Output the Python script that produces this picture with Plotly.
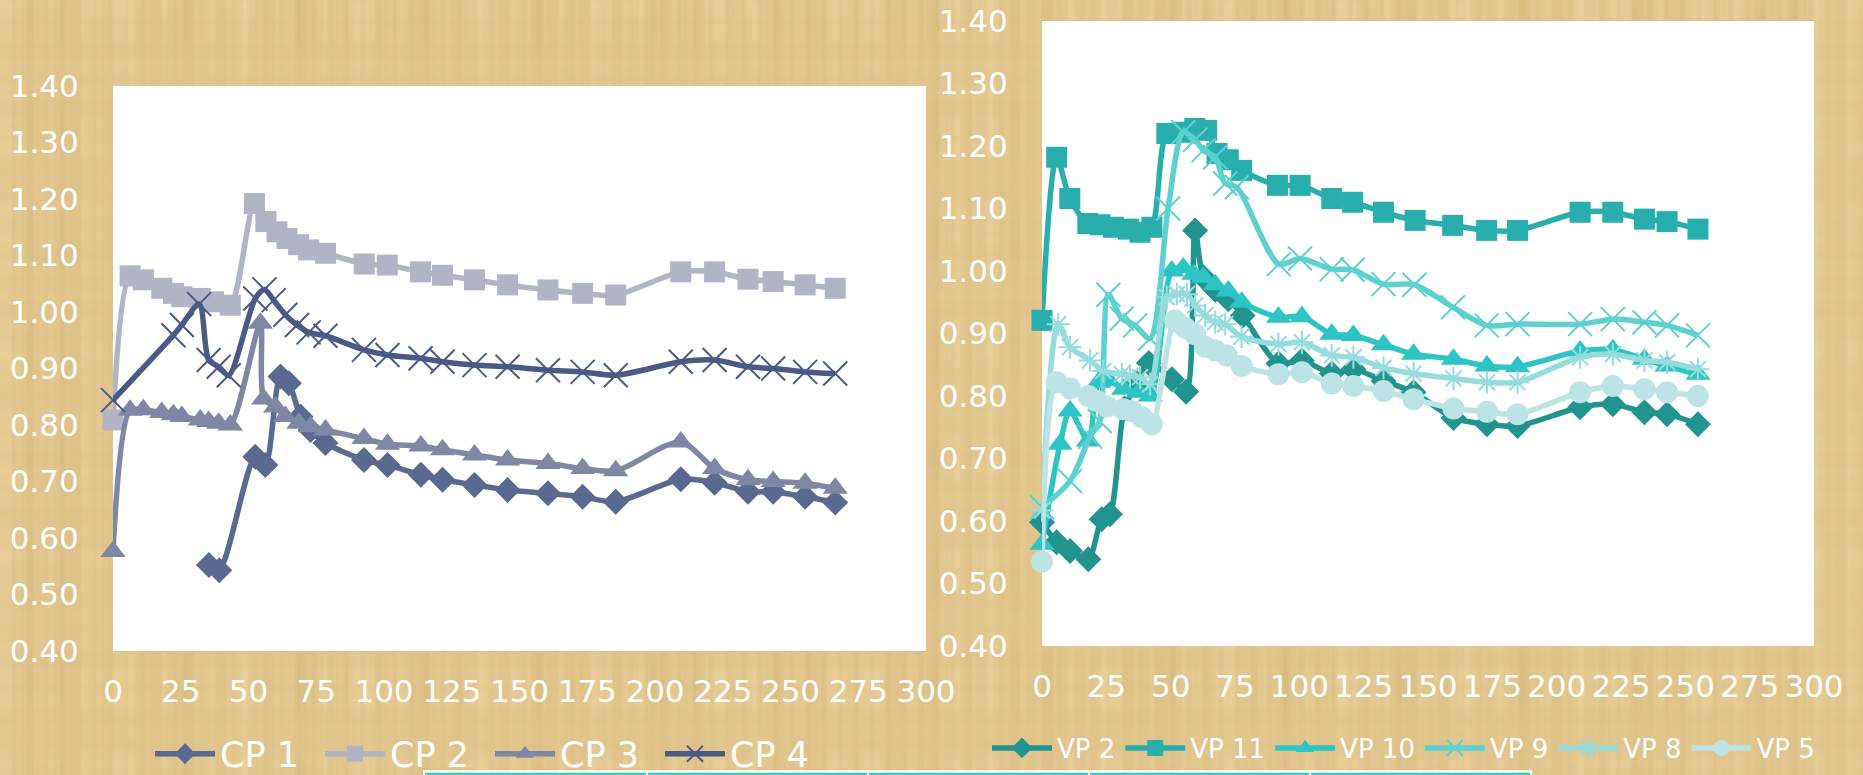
import base64
import struct
import zlib

import numpy as np
import plotly.graph_objects as go

# ---------------- left panel: CP series ----------------
cp1_x = [35.4, 39.2, 52.5, 56.2, 61.8, 64.9, 69.2, 72.9, 78.4, 92.6, 101.3, 113.6, 121.6,
         133.4, 145.6, 160.5, 173.3, 185.5, 209.5, 222, 234.3, 243.6, 255.4, 266.5]
cp1_y = [0.552, 0.543, 0.744, 0.729, 0.886, 0.874, 0.815, 0.791, 0.768, 0.738, 0.729, 0.712, 0.703,
         0.694, 0.685, 0.679, 0.673, 0.664, 0.704, 0.698, 0.682, 0.682, 0.673, 0.663]

cp2_x = [0, 6.3, 11.2, 18, 22.3, 25.4, 32.2, 37.1, 43.3, 52.2, 56.4, 60.5, 64.2, 68.5, 72.2, 78.4,
         92.7, 101.2, 113.5, 121.6, 133.4, 145.6, 160.5, 173.3, 185.5, 209.5, 222, 234.3, 243.6,
         255.4, 266.5]
cp2_y = [0.809, 1.064, 1.057, 1.042, 1.033, 1.027, 1.024, 1.018, 1.012, 1.192, 1.16, 1.142, 1.13,
         1.119, 1.11, 1.104, 1.085, 1.083, 1.071, 1.065, 1.057, 1.048, 1.039, 1.033, 1.030, 1.071,
         1.071, 1.058, 1.054, 1.048, 1.042]

cp3_x = [0, 6.3, 11.2, 18, 22.3, 25.4, 32.2, 35.3, 39.0, 43.3, 54.4, 55.6, 60, 63.6, 68.6, 72.9,
         78.4, 92.6, 101.3, 113.6, 121.6, 133.4, 145.6, 160.5, 173.3, 185.5, 209.5, 222, 234.3,
         243.6, 255.4, 266.5]
cp3_y = [0.576, 0.826, 0.827, 0.822, 0.818, 0.815, 0.809, 0.806, 0.803, 0.800, 0.980, 0.846, 0.832,
         0.815, 0.803, 0.797, 0.791, 0.776, 0.766, 0.763, 0.756, 0.747, 0.738, 0.732, 0.723, 0.719,
         0.770, 0.723, 0.703, 0.700, 0.697, 0.688]

cp4_x = [0, 22.3, 25.4, 31.8, 35.3, 39.0, 42.7, 52.5, 55.9, 59.3, 63.6, 67.9, 72.2, 78.4, 92.6,
         101.3, 113.5, 121.6, 133.4, 145.6, 160.5, 173.3, 185.5, 209.5, 222, 234.3, 243.6, 255.4,
         266.5]
cp4_y = [0.844, 0.959, 0.977, 1.014, 0.915, 0.903, 0.888, 1.024, 1.040, 1.021, 0.995, 0.977, 0.964,
         0.958, 0.933, 0.924, 0.918, 0.912, 0.906, 0.903, 0.897, 0.894, 0.888, 0.912, 0.915, 0.903,
         0.900, 0.894, 0.891]

# ---------------- right panel: VP series ----------------
vp2_x = [0, 5.7, 10.9, 18, 23.2, 26.4, 32, 37, 41.5, 50.5, 56, 59.5, 62.7, 67.3, 72.4, 78, 91.9,
         101, 112.6, 121, 132.7, 144.4, 159.9, 172.9, 184.8, 209.1, 221.8, 234.1, 242.9, 254.9]
vp2_y = [0.598, 0.566, 0.552, 0.539, 0.603, 0.611, 0.780, 0.820, 0.853, 0.827, 0.807, 1.065, 0.990,
         0.970, 0.955, 0.929, 0.852, 0.857, 0.836, 0.843, 0.824, 0.806, 0.765, 0.755, 0.752, 0.782,
         0.787, 0.774, 0.771, 0.755]

vp11_x = [0, 5.7, 10.8, 17.8, 22.5, 27.7, 33.6, 38.1, 42.7, 48.5, 54.8, 59.4, 64, 68, 72.4, 77.6,
          91.5, 100.3, 112.6, 120.7, 132.7, 145, 159.6, 172.8, 184.8, 209.1, 221.8, 234.1, 242.9,
          254.9]
vp11_y = [0.921, 1.182, 1.116, 1.076, 1.074, 1.070, 1.067, 1.062, 1.070, 1.220, 1.222, 1.228, 1.225,
          1.188, 1.178, 1.161, 1.137, 1.137, 1.116, 1.110, 1.094, 1.081, 1.073, 1.065, 1.065, 1.094,
          1.094, 1.083, 1.079, 1.067]

vp10_x = [0, 7, 10.9, 18, 22, 25.9, 31.7, 37.5, 42.1, 50.4, 54.9, 59, 62.7, 67.3, 72.4, 77.6, 91.9,
          101, 112.6, 121, 132.7, 144.4, 159.9, 172.9, 184.8, 209.1, 221.8, 234.1, 242.9, 254.9]
vp10_y = [0.563, 0.723, 0.776, 0.728, 0.822, 0.825, 0.811, 0.806, 0.800, 1.000, 1.005, 0.995, 0.990,
          0.978, 0.968, 0.950, 0.926, 0.927, 0.899, 0.897, 0.882, 0.867, 0.859, 0.848, 0.847, 0.872,
          0.874, 0.859, 0.848, 0.835]

vp9_x = [0, 10.9, 18.7, 22.4, 25.8, 31, 36.2, 42, 49, 54.9, 59.5, 62.7, 67.3, 71.2, 75.7, 92, 100.3,
         112.6, 120.7, 132.7, 144.7, 159.7, 172.8, 184.8, 209.1, 221.8, 234.1, 242.9, 254.9]
vp9_y = [0.622, 0.664, 0.735, 0.760, 0.962, 0.924, 0.913, 0.892, 1.100, 1.222, 1.210, 1.193, 1.182,
         1.140, 1.134, 1.011, 1.020, 1.003, 1.002, 0.979, 0.978, 0.942, 0.913, 0.915, 0.915, 0.923,
         0.918, 0.913, 0.897]

vp8_x = [0, 6.3, 10.9, 18.7, 23.8, 31, 34.2, 38.1, 42, 48.5, 52.4, 56.3, 59.5, 63.4, 67.3, 71.2,
         77.5, 91.9, 101, 112.6, 121, 132.7, 144.4, 159.9, 172.9, 184.8, 209.1, 221.8, 234.1, 242.9,
         254.9]
vp8_y = [0.617, 0.915, 0.878, 0.857, 0.840, 0.835, 0.832, 0.830, 0.819, 0.958, 0.963, 0.963, 0.945,
         0.929, 0.918, 0.915, 0.895, 0.883, 0.886, 0.865, 0.862, 0.845, 0.836, 0.828, 0.822, 0.822,
         0.862, 0.867, 0.857, 0.854, 0.843]

vp5_x = [0, 5.7, 10.9, 18, 21.3, 25.2, 31.6, 34.9, 38.8, 42.7, 51.7, 55.6, 59.5, 63.4, 67.3, 71.8,
         77.6, 91.9, 101, 112.6, 121, 132.7, 144.4, 159.9, 172.9, 184.8, 209.1, 221.8, 234.1, 242.9,
         254.9]
vp5_y = [0.535, 0.822, 0.812, 0.800, 0.792, 0.783, 0.779, 0.776, 0.766, 0.755, 0.921, 0.909, 0.899,
         0.879, 0.873, 0.865, 0.848, 0.835, 0.838, 0.820, 0.816, 0.808, 0.795, 0.780, 0.775, 0.771,
         0.806, 0.816, 0.811, 0.806, 0.800]

y_ticks = [0.4, 0.5, 0.6, 0.7, 0.8, 0.9, 1.0, 1.1, 1.2, 1.3, 1.4]
x_ticks = [0, 25, 50, 75, 100, 125, 150, 175, 200, 225, 250, 275, 300]

W, H = 1863, 775
BG = "#E1C58C"
FONT = "DejaVu Sans"


# ---------------- papyrus-like backdrop (deterministic streak pattern) ----------------
def _png(arr):
    h, w, _ = arr.shape
    raw = b"".join(b"\x00" + arr[i].tobytes() for i in range(h))

    def chunk(tag, data):
        return (struct.pack(">I", len(data)) + tag + data
                + struct.pack(">I", zlib.crc32(tag + data) & 0xFFFFFFFF))

    return (b"\x89PNG\r\n\x1a\n"
            + chunk(b"IHDR", struct.pack(">IIBBBBB", w, h, 8, 2, 0, 0, 0))
            + chunk(b"IDAT", zlib.compress(raw, 9))
            + chunk(b"IEND", b""))


def papyrus(w, h):
    cols = np.arange(w, dtype=float)
    rows = np.arange(h, dtype=float)
    tau = 2 * np.pi
    v = (0.45 * np.sin(tau * cols / 5.3) + 0.35 * np.sin(tau * cols / 2.7 + 1.3)
         + 0.50 * np.sin(tau * cols / 13.1 + 0.4) + 0.40 * np.sin(tau * cols / 41.0 + 2.0))
    hz = (0.50 * np.sin(tau * rows / 9.7 + 0.5) + 0.30 * np.sin(tau * rows / 3.9)
          + 0.40 * np.sin(tau * rows / 23.0 + 1.0))
    mod = 1 + 0.35 * np.sin(tau * rows / 37.0 + 0.7)
    shade = 4.5 * v[None, :] * mod[:, None] + 1.5 * hz[:, None] + 0.8 * v[None, :] * hz[:, None]
    base = np.array([226.0, 198.0, 142.0])
    gain = np.array([1.0, 1.15, 1.5])
    img = base[None, None, :] + shade[:, :, None] * gain[None, None, :]
    return np.clip(img, 0, 255).astype(np.uint8)


texture_uri = "data:image/png;base64," + base64.b64encode(_png(papyrus(621, 259))).decode()

fig = go.Figure()


def add_series(name, xs, ys, color, symbol, size, axis, legend, open_marker=False):
    marker = dict(symbol=symbol, size=size, color=color)
    if open_marker:
        marker["line"] = dict(color=color, width=2)
    else:
        marker["line"] = dict(width=0)
    fig.add_trace(go.Scatter(
        x=xs, y=ys, name=name, mode="lines+markers",
        line=dict(color=color, width=5.5, shape="spline", smoothing=0.8),
        marker=marker, cliponaxis=False,
        xaxis="x" if axis == 1 else "x2", yaxis="y" if axis == 1 else "y2",
        legend=legend,
    ))


add_series("CP 1", cp1_x, cp1_y, "#5A6990", "diamond", 20, 1, "legend")
add_series("CP 2", cp2_x, cp2_y, "#B0B4C4", "square", 21, 1, "legend")
add_series("CP 3", cp3_x, cp3_y, "#7F87A5", "triangle-up", 22, 1, "legend")
add_series("CP 4", cp4_x, cp4_y, "#4A5A87", "x-thin-open", 24, 1, "legend", open_marker=True)

add_series("VP 2", vp2_x, vp2_y, "#21948F", "diamond", 20, 2, "legend2")
add_series("VP 11", vp11_x, vp11_y, "#29AEAE", "square", 21, 2, "legend2")
add_series("VP 10", vp10_x, vp10_y, "#2DC4C4", "triangle-up", 22, 2, "legend2")
add_series("VP 9", vp9_x, vp9_y, "#5DD0D0", "x-thin-open", 24, 2, "legend2", open_marker=True)
add_series("VP 8", vp8_x, vp8_y, "#95DCDD", "asterisk-open", 19, 2, "legend2", open_marker=True)
add_series("VP 5", vp5_x, vp5_y, "#BCE4E5", "circle", 22, 2, "legend2")

# plot-area rectangles in pixels
L_X0, L_X1, L_Y0, L_Y1 = 113, 926, 86, 651
R_X0, R_X1, R_Y0, R_Y1 = 1042, 1814, 21, 646


def xdom(a, b):
    return [a / W, b / W]


def ydom(top, bottom):
    return [(H - bottom) / H, (H - top) / H]


tickfont = dict(family=FONT, size=31, color="white")


def xaxis(domain, anchor):
    return dict(domain=domain, anchor=anchor, range=[0, 300], tickvals=x_ticks,
                ticktext=[str(v) for v in x_ticks], showgrid=False, zeroline=False,
                showline=False, ticks="outside", ticklen=13, tickcolor="rgba(0,0,0,0)",
                tickfont=tickfont, fixedrange=True)


def yaxis(domain, anchor):
    return dict(domain=domain, anchor=anchor, range=[0.4, 1.4], tickvals=y_ticks,
                ticktext=[f"{v:.2f}" for v in y_ticks], showgrid=False, zeroline=False,
                showline=False, ticks="outside", ticklen=27, tickcolor="rgba(0,0,0,0)",
                tickfont=tickfont, fixedrange=True)


shapes = []
# white plot panels laid over the backdrop
for (x0, x1, top, bottom) in [(L_X0, L_X1, L_Y0, L_Y1), (R_X0, R_X1, R_Y0, R_Y1)]:
    shapes.append(dict(type="rect", xref="paper", yref="paper", layer="below",
                       x0=x0 / W, x1=x1 / W, y0=(H - bottom) / H, y1=(H - top) / H,
                       fillcolor="white", line=dict(width=0)))
# strip of a table border along the bottom edge
shapes.append(dict(type="line", xref="paper", yref="paper", x0=424 / W, x1=1531 / W,
                   y0=3.5 / H, y1=3.5 / H, line=dict(color="white", width=2.5)))
shapes.append(dict(type="line", xref="paper", yref="paper", x0=424 / W, x1=1531 / W,
                   y0=1 / H, y1=1 / H, line=dict(color="#3CCACA", width=2.5)))
for sx in [424, 647, 868, 1089, 1310, 1531]:
    shapes.append(dict(type="line", xref="paper", yref="paper", x0=sx / W, x1=sx / W,
                       y0=0, y1=5 / H, line=dict(color="white", width=2)))

fig.update_layout(
    width=W, height=H, autosize=False,
    margin=dict(l=0, r=0, t=0, b=0, pad=0, autoexpand=False),
    paper_bgcolor=BG, plot_bgcolor="white",
    font=dict(family=FONT, color="white"),
    images=[dict(source=texture_uri, xref="paper", yref="paper", x=0, y=1, sizex=1, sizey=1,
                 xanchor="left", yanchor="top", sizing="stretch", layer="below")],
    xaxis=xaxis(xdom(L_X0, L_X1), "y"),
    yaxis=yaxis(ydom(L_Y0, L_Y1), "x"),
    xaxis2=xaxis(xdom(R_X0, R_X1), "y2"),
    yaxis2=yaxis(ydom(R_Y0, R_Y1), "x2"),
    legend=dict(orientation="h", x=150 / W, y=21 / H, xanchor="left", yanchor="middle",
                bgcolor="rgba(0,0,0,0)", font=dict(family=FONT, size=35, color="white"),
                itemwidth=60, entrywidth=95, entrywidthmode="pixels", tracegroupgap=0),
    legend2=dict(orientation="h", x=987 / W, y=27 / H, xanchor="left", yanchor="middle",
                 bgcolor="rgba(0,0,0,0)", font=dict(family=FONT, size=26, color="white"),
                 itemwidth=60, tracegroupgap=0),
    shapes=shapes,
    showlegend=True,
)

fig.write_html("out.html")
